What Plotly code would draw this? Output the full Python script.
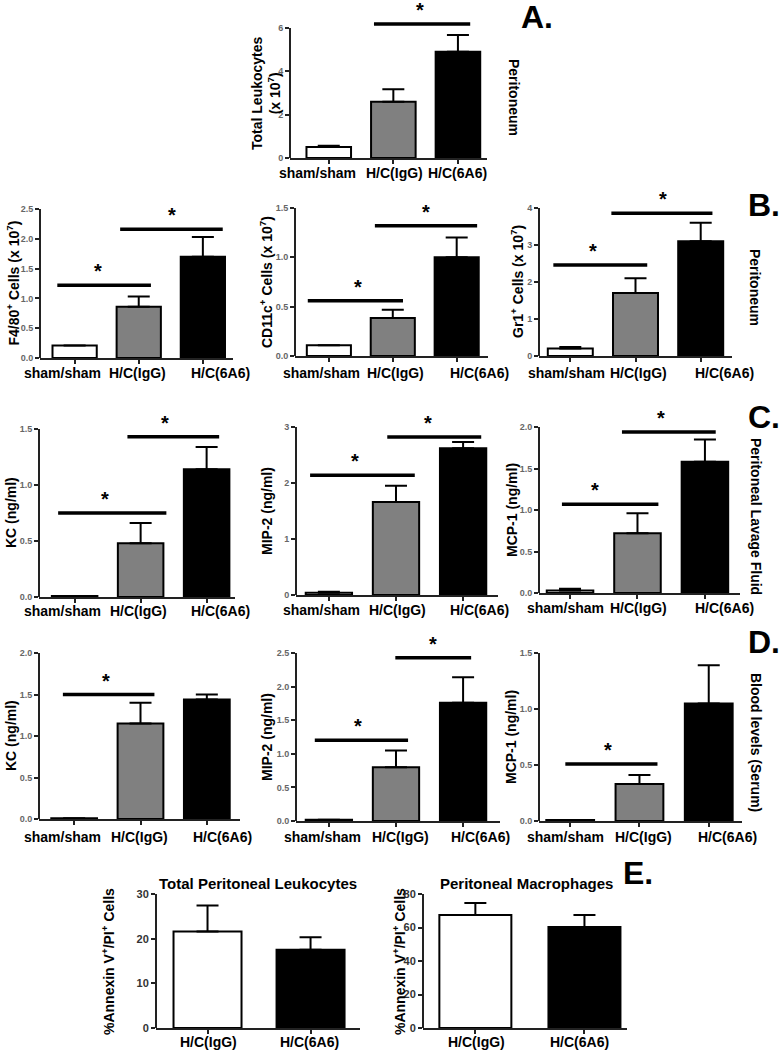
import plotly.graph_objects as go

# ---------------- DATA ----------------
groups3 = ["sham/sham", "H/C(IgG)", "H/C(6A6)"]
groups2 = ["H/C(IgG)", "H/C(6A6)"]
colors3 = ["white", "#808080", "black"]
colors2 = ["white", "black"]

# Panel A - peritoneum total leukocytes (x10^7)
total_leuk_mean = [0.51, 2.6, 4.9]
total_leuk_sem = [0.06, 0.57, 0.78]
# Panel B - peritoneum cell subsets (x10^7)
f480_mean = [0.21, 0.86, 1.70]
f480_sem = [0.0, 0.17, 0.33]
cd11c_mean = [0.11, 0.385, 1.0]
cd11c_sem = [0.0, 0.085, 0.2]
gr1_mean = [0.20, 1.70, 3.10]
gr1_sem = [0.04, 0.40, 0.50]
# Panel C - peritoneal lavage fluid (ng/ml)
plf_kc_mean = [0.01, 0.48, 1.14]
plf_kc_sem = [0.0, 0.18, 0.20]
plf_mip2_mean = [0.04, 1.66, 2.62]
plf_mip2_sem = [0.02, 0.29, 0.11]
plf_mcp1_mean = [0.03, 0.72, 1.58]
plf_mcp1_sem = [0.02, 0.24, 0.27]
# Panel D - serum (ng/ml)
ser_kc_mean = [0.01, 1.15, 1.44]
ser_kc_sem = [0.0, 0.25, 0.06]
ser_mip2_mean = [0.02, 0.80, 1.76]
ser_mip2_sem = [0.0, 0.25, 0.38]
ser_mcp1_mean = [0.01, 0.33, 1.05]
ser_mcp1_sem = [0.0, 0.08, 0.34]
# Panel E - % Annexin V+/PI+ cells
annex_leuk_mean = [21.6, 17.5]
annex_leuk_sem = [5.8, 2.8]
annex_mac_mean = [67.5, 60.3]
annex_mac_sem = [7.1, 7.2]

# significance brackets: (from group index, to group index, y value, star position)
sig_A = [(0.70, 2.19, 6.18, 1.41)]
sig_B1 = [(-0.27, 1.19, 1.22, 0.37), (0.71, 2.31, 2.16, 1.52)]
sig_B2 = [(-0.33, 1.16, 0.56, 0.45), (0.72, 2.32, 1.32, 1.52)]
sig_B3 = [(-0.26, 1.18, 2.46, 0.35), (0.63, 2.18, 3.86, 1.42)]
sig_C1 = [(-0.25, 1.39, 0.75, 0.46), (0.80, 2.19, 1.43, 1.37)]
sig_C2 = [(-0.28, 1.28, 2.14, 0.39), (0.87, 2.27, 2.82, 1.48)]
sig_C3 = [(-0.12, 1.31, 1.07, 0.37), (0.77, 2.16, 1.94, 1.35)]
sig_D1 = [(-0.17, 1.21, 1.50, 0.48)]
sig_D2 = [(-0.21, 1.18, 1.20, 0.43), (0.99, 2.12, 2.43, 1.55)]
sig_D3 = [(-0.07, 1.26, 0.51, 0.54)]

# ---------------- LAYOUT SPECS ----------------
W, H = 782, 1050
FONT = "Liberation Sans, Arial, sans-serif"

# geo: (x axis px, x end px, y zero px, top tick px, top tick value, dtick, fmt, domain top px, x range)
# xl: pixel centres of the group labels, xly: their vertical centre
panels = [
    dict(cats=groups3, mean=total_leuk_mean, sem=total_leuk_sem, col=colors3, sig=sig_A,
         geo=(290, 487, 158, 28, 6, 2, "d", 2, [-0.6, 2.45]),
         ylab="Total Leukocytes<br>(x 10<sup>7</sup>)", ylx=266, xl=(317, 394, 457), xly=173),
    dict(cats=groups3, mean=f480_mean, sem=f480_sem, col=colors3, sig=sig_B1,
         geo=(40, 233, 358, 209, 2.5, 0.5, ".1f", 195, [-0.54, 2.47]),
         ylab="F4/80<sup>+</sup> Cells (x 10<sup>7</sup>)", ylx=13, xl=(62, 137, 221), xly=373),
    dict(cats=groups3, mean=cd11c_mean, sem=cd11c_sem, col=colors3, sig=sig_B2,
         geo=(295, 488, 356, 208, 1.5, 0.5, ".1f", 195, [-0.53, 2.49]),
         ylab="CD11c<sup>+</sup> Cells (x 10<sup>7</sup>)", ylx=266, xl=(321, 395, 479), xly=373),
    dict(cats=groups3, mean=gr1_mean, sem=gr1_sem, col=colors3, sig=sig_B3,
         geo=(539, 732, 356, 208, 4, 1, "d", 195, [-0.48, 2.48]),
         ylab="Gr1<sup>+</sup> Cells (x 10<sup>7</sup>)", ylx=517, xl=(566, 638, 724), xly=373),
    dict(cats=groups3, mean=plf_kc_mean, sem=plf_kc_sem, col=colors3, sig=sig_C1,
         geo=(39, 235, 597, 429, 1.5, 0.5, ".1f", 400, [-0.54, 2.43]),
         ylab="KC (ng/ml)", ylx=11, xl=(62, 138, 221), xly=611),
    dict(cats=groups3, mean=plf_mip2_mean, sem=plf_mip2_sem, col=colors3, sig=sig_C2,
         geo=(296, 498, 595, 427, 3, 1, "d", 400, [-0.49, 2.52]),
         ylab="MIP-2 (ng/ml)", ylx=267, xl=(321, 397, 479), xly=610),
    dict(cats=groups3, mean=plf_mcp1_mean, sem=plf_mcp1_sem, col=colors3, sig=sig_C3,
         geo=(539, 740, 593, 427, 2.0, 0.5, ".1f", 400, [-0.46, 2.52]),
         ylab="MCP-1 (ng/ml)", ylx=512, xl=(565, 638, 724), xly=608),
    dict(cats=groups3, mean=ser_kc_mean, sem=ser_kc_sem, col=colors3, sig=sig_D1,
         geo=(39, 240, 819, 653, 2.0, 0.5, ".1f", 620, [-0.53, 2.5]),
         ylab="KC (ng/ml)", ylx=11, xl=(62, 139, 222), xly=837),
    dict(cats=groups3, mean=ser_mip2_mean, sem=ser_mip2_sem, col=colors3, sig=sig_D2,
         geo=(296, 500, 821, 653, 2.5, 0.5, ".1f", 620, [-0.49, 2.55]),
         ylab="MIP-2 (ng/ml)", ylx=267, xl=(322, 400, 480), xly=837),
    dict(cats=groups3, mean=ser_mcp1_mean, sem=ser_mcp1_sem, col=colors3, sig=sig_D3,
         geo=(539, 742, 821, 653, 1.5, 0.5, ".1f", 620, [-0.45, 2.48]),
         ylab="MCP-1 (ng/ml)", ylx=511, xl=(565, 643, 727), xly=837),
    dict(cats=groups2, mean=annex_leuk_mean, sem=annex_leuk_sem, col=colors2, sig=[],
         geo=(156, 360, 1028, 894, 30, 10, "d", 894, [-0.5, 1.48]),
         ylab="%Annexin V<sup>+</sup>/PI<sup>+</sup> Cells", ylx=108,
         title="Total Peritoneal Leukocytes", tx=258, xl=(208, 309), xly=1042),
    dict(cats=groups2, mean=annex_mac_mean, sem=annex_mac_sem, col=colors2, sig=[],
         geo=(423, 627, 1028, 894, 80, 20, "d", 894, [-0.48, 1.39]),
         ylab="%Annexin V<sup>+</sup>/PI<sup>+</sup> Cells", ylx=399,
         title="Peritoneal Macrophages", tx=526, xl=(476, 579), xly=1042),
]

fig = go.Figure()
shapes = []
annotations = []
layout_axes = {}
LBL = dict(family=FONT, size=14, color="black", weight="bold")

for i, p in enumerate(panels, start=1):
    x0p, xep, y0p, ytp, tmax, dt, fmt, topp, xr = p["geo"]
    ytop = tmax * (y0p - topp) / (y0p - ytp)
    xa = "x" if i == 1 else f"x{i}"
    ya = "y" if i == 1 else f"y{i}"
    xkey = "xaxis" if i == 1 else f"xaxis{i}"
    ykey = "yaxis" if i == 1 else f"yaxis{i}"
    is_e = len(p["cats"]) == 2
    fig.add_trace(go.Bar(
        x=p["cats"], y=p["mean"], xaxis=xa, yaxis=ya,
        width=0.66 if is_e else 0.69,
        marker=dict(color=p["col"], line=dict(color="black", width=2)),
        error_y=dict(type="data", array=p["sem"], arrayminus=[0] * len(p["sem"]),
                     symmetric=False, color="black", thickness=2, width=11),
        showlegend=False, hoverinfo="skip",
    ))
    nt = int(round(tmax / dt))
    tv = [k * dt for k in range(nt + 1)]
    layout_axes[xkey] = dict(
        domain=[x0p / W, xep / W], anchor=ya, type="category", range=xr,
        showline=True, linecolor="#222", linewidth=2, ticks="outside", ticklen=4,
        tickwidth=1.5, tickcolor="#222", showgrid=False, zeroline=False, fixedrange=True,
        showticklabels=False, automargin=False,
    )
    layout_axes[ykey] = dict(
        domain=[1 - y0p / H, 1 - topp / H], anchor=xa, range=[0, ytop],
        showline=False, ticks="outside", ticklen=4, tickwidth=1.5, tickcolor="#222",
        tickvals=tv, tickformat=fmt, showgrid=False, zeroline=False, fixedrange=True,
        automargin=False,
        tickfont=dict(family=FONT, size=11 if is_e else 9,
                      color="#333" if is_e else "#666", weight="bold"),
    )
    # y axis line up to top tick only
    shapes.append(dict(type="line", xref=f"{xa} domain", yref=f"{ya} domain",
                       x0=0, x1=0, y0=0, y1=tmax / ytop,
                       line=dict(color="#222", width=2)))
    # group labels under the x axis
    for cat, lx in zip(p["cats"], p["xl"]):
        annotations.append(dict(x=lx / W, y=1 - p["xly"] / H, xref="paper", yref="paper",
                                text=cat, showarrow=False, xanchor="center",
                                yanchor="middle", font=LBL))
    # significance brackets
    for (a, b, yv, sx) in p["sig"]:
        shapes.append(dict(type="line", xref=xa, yref=ya, x0=a, x1=b, y0=yv, y1=yv,
                           line=dict(color="black", width=3.5)))
        annotations.append(dict(x=sx, y=yv, xref=xa, yref=ya, text="*", showarrow=False,
                                yshift=14, font=dict(family=FONT, size=20, color="black",
                                                     weight="bold")))
    # y label
    annotations.append(dict(x=p["ylx"] / W, y=1 - ((y0p + ytp) / 2) / H, xref="paper",
                            yref="paper", text=p["ylab"], textangle=-90, showarrow=False,
                            xanchor="center", yanchor="middle", font=LBL))
    if "title" in p:
        annotations.append(dict(x=p["tx"] / W, y=1 - 883 / H, xref="paper", yref="paper",
                                text=p["title"], showarrow=False, xanchor="center",
                                yanchor="middle",
                                font=dict(family=FONT, size=15, color="black", weight="bold")))

# panel letters & side labels
letters = [("A.", 537, 17), ("B.", 764, 205), ("C.", 764, 417), ("D.", 764, 642), ("E.", 638, 873)]
for t, lx, ly in letters:
    annotations.append(dict(x=lx / W, y=1 - ly / H, xref="paper", yref="paper", text=t,
                            showarrow=False, xanchor="center", yanchor="middle",
                            font=dict(family=FONT, size=32, color="black", weight="bold")))
side = [("Peritoneum", 514, 97), ("Peritoneum", 755, 287),
        ("Peritoneal Lavage Fluid", 756, 516), ("Blood levels (Serum)", 756, 742)]
for t, sx, sy in side:
    annotations.append(dict(x=sx / W, y=1 - sy / H, xref="paper", yref="paper", text=t,
                            textangle=90, showarrow=False, xanchor="center", yanchor="middle",
                            font=LBL))

fig.update_layout(
    width=W, height=H, margin=dict(l=0, r=0, t=0, b=0, autoexpand=False),
    paper_bgcolor="white", plot_bgcolor="white", bargap=0.3,
    shapes=shapes, annotations=annotations, **layout_axes,
)
fig.write_html(
    "out.html",
    config={"displayModeBar": False},
    post_script="document.body.style.margin='0';document.body.style.padding='0';"
                "document.documentElement.style.overflow='hidden';",
)
